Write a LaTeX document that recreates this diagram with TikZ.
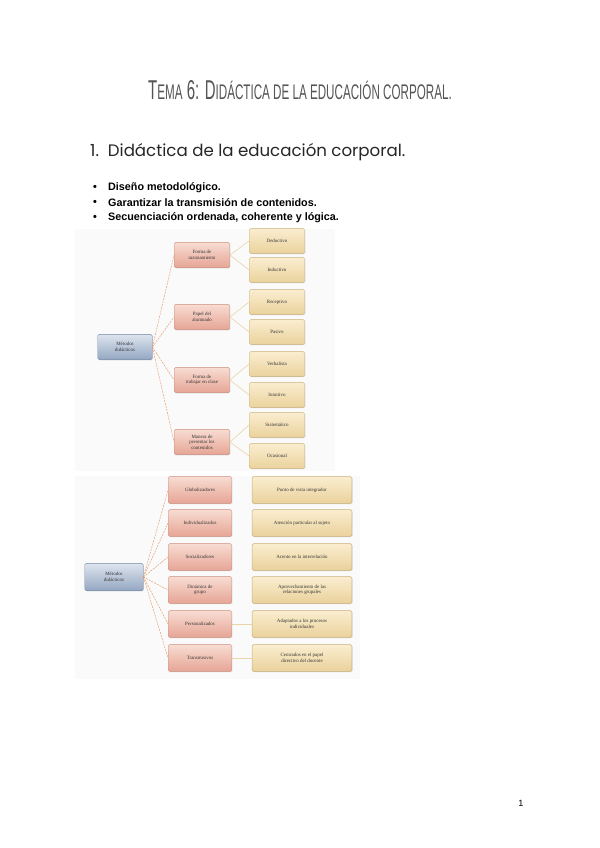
\documentclass[tikz,border=0pt]{standalone}
\usepackage{fontspec}
\setmainfont{Liberation Serif}
\newfontfamily\titulofont[FakeStretch=0.55]{Liberation Sans}
\newfontfamily\encabfont{Poppins}
\newfontfamily\listafont{Liberation Sans}
\usepackage{tikz}
\usetikzlibrary{positioning,shadows}
\definecolor{tinta}{HTML}{333333}
\definecolor{gristit}{HTML}{555555}
\definecolor{azulA}{HTML}{DDE4EE}
\definecolor{azulB}{HTML}{94A7C2}
\definecolor{azulL}{HTML}{7186A6}
\definecolor{rosaA}{HTML}{F8DCD2}
\definecolor{rosaB}{HTML}{E6A595}
\definecolor{rosaL}{HTML}{CB8E7E}
\definecolor{ocreA}{HTML}{FAEDCF}
\definecolor{ocreB}{HTML}{EAD29C}
\definecolor{ocreL}{HTML}{C9B07A}
\definecolor{naranja}{HTML}{E39A6C}
\definecolor{lineaocre}{HTML}{E9D6A6}
\newcommand{\pc}[1]{{\fontsize{21}{21}\selectfont #1}}
\tikzset{
  caja/.style={rounded corners=1.5pt, line width=.4pt, align=center, inner sep=1pt, font=\fontsize{4.9}{5.5}\selectfont, text=tinta, drop shadow={shadow xshift=.7pt, shadow yshift=-.7pt, opacity=.25}},
  metodo/.style={caja, draw=azulL, top color=azulA, bottom color=azulB},
  rama/.style={caja, draw=rosaL, top color=rosaA, bottom color=rosaB},
  hoja/.style={caja, draw=ocreL, top color=ocreA, bottom color=ocreB},
  trazo/.style={draw=naranja, line width=.45pt, dash pattern=on 2pt off 1pt},
  liso/.style={draw=lineaocre, line width=.6pt},
  vineta/.style={font=\listafont\bfseries\fontsize{10.7}{12}\selectfont, anchor=west, inner sep=0pt},
}

\begin{document}
\begin{tikzpicture}[x=0.992pt, y=-0.992pt]
    \useasboundingbox[fill=white] (0,0) rectangle (600,848);
    % titulo y encabezado
    \node[text=gristit, inner sep=0pt] (titulo) at (300,90) {\titulofont\fontsize{27}{27}\selectfont T\pc{EMA} 6: D\pc{IDÁCTICA DE LA EDUCACIÓN CORPORAL.}};
    \node[anchor=west, inner sep=0pt, text=black!85] (apartado) at (90,152) {\encabfont\fontsize{16.5}{18}\selectfont 1.\ \ Didáctica de la educación corporal.};
    \node[vineta] (b1) at (93,188) {•}; \node[vineta] (t1) at (108,188) {Diseño metodológico.};
    \node[vineta] (b2) at (93,203) {•}; \node[vineta] (t2) at (108,203) {Garantizar la transmisión de contenidos.};
    \node[vineta] (b3) at (93,218) {•}; \node[vineta] (t3) at (108,218) {Secuenciación ordenada, coherente y lógica.};

    % primer esquema
    \fill[black!2] (75,229) rectangle (335,471);
    \node[metodo, minimum width=54pt, minimum height=25pt] (m1) at (125,347) {Métodos\\didácticos};
    \begin{scope}[every node/.style={rama, minimum width=55pt, minimum height=25pt}]
      \node (r1) at (202,255) {Forma de\\razonamiento};
      \node (r2) at (202,317) {Papel del\\alumnado};
      \node (r3) at (202,380) {Forma de\\trabajar en clase};
      \node (r4) at (202,442) {Manera de\\presentar los\\contenidos};
    \end{scope}
    \begin{scope}[every node/.style={hoja, minimum width=55pt, minimum height=24.5pt}]
      \node (h1) at (277,241) {Deductivo};
      \node (h2) at (277,270) {Inductivo};
      \node (h3) at (277,302) {Receptivo};
      \node (h4) at (277,332) {Pasivo};
      \node (h5) at (277,364) {Verbalista};
      \node (h6) at (277,395) {Intuitivo};
      \node (h7) at (277,425) {Sistemático};
      \node (h8) at (277,456) {Ocasional};
    \end{scope}
    \foreach \r in {r1,r2,r3,r4}{ \draw[trazo] (m1.east) -- (\r.west); }
    \foreach \r/\a/\b in {r1/h1/h2, r2/h3/h4, r3/h5/h6, r4/h7/h8}{
      \draw[liso] (\r.east) -- (\a.west);
      \draw[liso] (\r.east) -- (\b.west);
    }

    % segundo esquema
    \fill[black!2] (75,476) rectangle (360,679);
    \node[metodo, minimum width=58pt, minimum height=27pt] (m2) at (114,577) {Métodos\\didácticos};
    \begin{scope}[every node/.style={rama, minimum width=63pt, minimum height=26.5pt}]
      \node (g1) at (200,490) {Globalizadores};
      \node (g2) at (200,523) {Individualizados};
      \node (g3) at (200,557) {Socializadores};
      \node (g4) at (200,590) {Dinámica de\\grupo};
      \node (g5) at (200,624) {Personalizados};
      \node (g6) at (200,658) {Transmisivos};
    \end{scope}
    \begin{scope}[every node/.style={hoja, minimum width=99pt, minimum height=26.5pt}]
      \node (d1) at (302,490) {Punto de vista integrador};
      \node (d2) at (302,523) {Atención particular al sujeto};
      \node (d3) at (302,557) {Acento en la interrelación};
      \node (d4) at (302,590) {Aprovechamiento de las\\relaciones grupales};
      \node (d5) at (302,624) {Adaptados a los procesos\\individuales};
      \node (d6) at (302,658) {Centrados en el papel\\directivo del docente};
    \end{scope}
    \foreach \g in {g1,g2,g3,g4,g5,g6}{ \draw[trazo] (m2.east) -- (\g.west); }
    \draw[liso] (g5.east) -- (d5.west);
    \draw[liso] (g6.east) -- (d6.west);

    \node[font=\listafont\fontsize{9}{10}\selectfont] (pagina) at (521,803) {1};
\end{tikzpicture}
\end{document}
